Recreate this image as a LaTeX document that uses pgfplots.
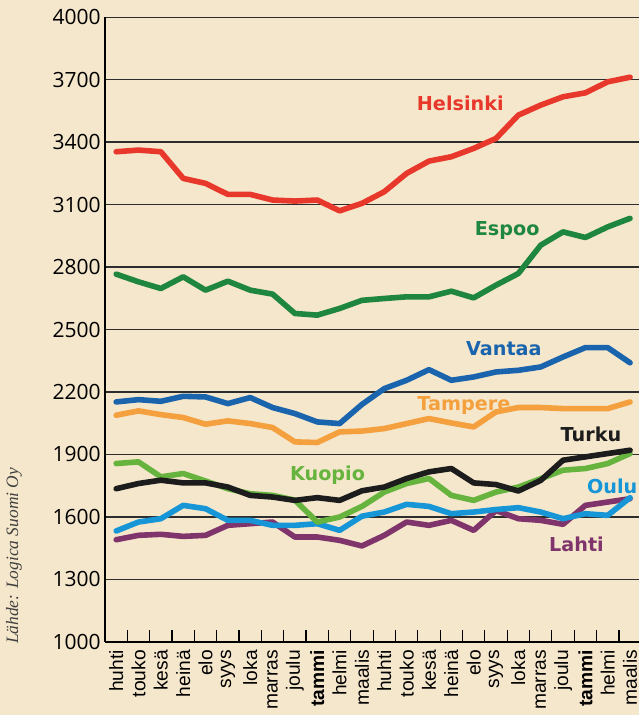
\documentclass[border=0pt]{standalone}
\usepackage{fontspec}
\usepackage{pgfplots}
\pgfplotsset{compat=1.18}
\usetikzlibrary{backgrounds}
\setmainfont{Open Sans}
\newfontfamily\labfont{DejaVu Sans}
\newfontfamily\monfont{Liberation Sans}
\newfontfamily\srcfont{Liberation Serif}
\definecolor{bgc}{RGB}{245,231,203}
\definecolor{gridc}{RGB}{45,45,45}
\definecolor{chel}{RGB}{232,56,44}
\definecolor{cesp}{RGB}{30,134,62}
\definecolor{cvan}{RGB}{26,100,174}
\definecolor{ctam}{RGB}{244,160,62}
\definecolor{ctur}{RGB}{28,28,28}
\definecolor{ckuo}{RGB}{102,180,62}
\definecolor{coul}{RGB}{22,150,214}
\definecolor{clah}{RGB}{128,52,108}
\pgfplotstableread{
x    hel  esp  van  tam  tur  kuo  oul  lah
0.5  3354 2766 2152 2088 1735 1856 1532 1490
1.5  3362 2729 2163 2109 1760 1864 1575 1511
2.5  3354 2697 2155 2091 1776 1792 1591 1516
3.5  3226 2753 2179 2077 1763 1808 1655 1506
4.5  3202 2689 2176 2045 1763 1772 1639 1511
5.5  3149 2732 2144 2061 1743 1735 1583 1559
6.5  3149 2689 2173 2048 1703 1711 1583 1567
7.5  3122 2670 2125 2029 1695 1703 1559 1575
8.5  3117 2577 2096 1960 1679 1680 1559 1503
9.5  3122 2569 2056 1957 1692 1575 1567 1503
10.5 3070 2601 2048 2008 1679 1599 1535 1487
11.5 3106 2640 2140 2012 1725 1650 1603 1460
12.5 3162 2649 2216 2024 1743 1719 1623 1511
13.5 3250 2657 2256 2048 1784 1760 1660 1575
14.5 3309 2657 2307 2072 1816 1784 1650 1559
15.5 3330 2684 2256 2051 1832 1703 1615 1583
16.5 3370 2652 2272 2032 1763 1679 1623 1535
17.5 3418 2713 2296 2104 1755 1719 1635 1630
18.5 3530 2769 2304 2125 1724 1743 1644 1591
19.5 3578 2905 2320 2125 1775 1783 1623 1583
20.5 3618 2969 2368 2120 1872 1824 1591 1564
21.5 3637 2942 2413 2120 1888 1832 1615 1655
22.5 3690 2993 2413 2120 1904 1856 1607 1671
23.5 3712 3034 2340 2152 1920 1904 1692 1687
}\data
\begin{document}
\begin{tikzpicture}
\begin{axis}[
  at={(0,0)}, anchor=south west,
  scale only axis, width=267pt, height=312.2pt,
  xmin=0, xmax=23.9, ymin=1000, ymax=4000,
  axis lines=left,
  axis line style={-, line width=0.8pt, black},
  xtick={0.5,1.5,...,23.5},
  xticklabels={huhti,touko,kesä,heinä,elo,syys,loka,marras,joulu,\textbf{tammi},helmi,maalis,huhti,touko,kesä,heinä,elo,syys,loka,marras,joulu,\textbf{tammi},helmi,maalis},
  minor xtick={1,2,...,23},
  major tick length=0pt,
  minor tick length=6pt,
  tick align=inside,
  minor tick style={line width=0.6pt, black},
  xticklabel style={rotate=90, anchor=east, font=\monfont\fontsize{9.6}{10}\selectfont, inner sep=0pt, xshift=-4pt},
  ytick={1000,1300,...,4000},
  yticklabels={1000,1300,1600,1900,2200,2500,2800,3100,3400,3700,4000},
  yticklabel style={font=\fontsize{10.5}{12}\selectfont, inner sep=2pt},
  ymajorgrids,
  grid style={line width=0.75pt, gridc},
  every axis plot/.append style={line width=2.8pt, line join=round, line cap=round},
  clip=true,
]
\node[anchor=base, text=chel, font=\labfont\bfseries\fontsize{9.6}{11}\selectfont] at (axis cs:15.9,3551) {Helsinki};
\node[anchor=base, text=cesp, font=\labfont\bfseries\fontsize{9.6}{11}\selectfont] at (axis cs:18.0,2953) {Espoo};
\node[anchor=base, text=cvan, font=\labfont\bfseries\fontsize{9.6}{11}\selectfont] at (axis cs:17.85,2376) {Vantaa};
\node[anchor=base, text=ctam, font=\labfont\bfseries\fontsize{9.6}{11}\selectfont] at (axis cs:16.06,2112) {Tampere};
\node[anchor=base, text=ctur, font=\labfont\bfseries\fontsize{9.6}{11}\selectfont] at (axis cs:21.75,1960) {Turku};
\node[anchor=base, text=ckuo, font=\labfont\bfseries\fontsize{9.6}{11}\selectfont] at (axis cs:9.96,1775) {Kuopio};
\node[anchor=base, text=coul, font=\labfont\bfseries\fontsize{9.6}{11}\selectfont] at (axis cs:22.7,1712) {Oulu};
\node[anchor=base, text=clah, font=\labfont\bfseries\fontsize{9.6}{11}\selectfont] at (axis cs:21.1,1434) {Lahti};
\addplot[chel] table[x=x,y=hel] {\data};
\addplot[cesp] table[x=x,y=esp] {\data};
\addplot[cvan] table[x=x,y=van] {\data};
\addplot[ctam] table[x=x,y=tam] {\data};
\addplot[clah] table[x=x,y=lah] {\data};
\addplot[coul] table[x=x,y=oul] {\data};
\addplot[ckuo] table[x=x,y=kuo] {\data};
\addplot[ctur] table[x=x,y=tur] {\data};
\end{axis}
\node[rotate=90, font=\srcfont\itshape\fontsize{8.7}{10}\selectfont, text=black!75] at (-45.5pt,42.9pt) {Lähde: Logica Suomi Oy};
\begin{pgfonlayer}{background}
\fill[bgc] (-52.5pt,-36.65pt) rectangle (267pt,320.85pt);
\end{pgfonlayer}
\pgfresetboundingbox
\useasboundingbox (-52.5pt,-36.65pt) rectangle (267pt,320.85pt);
\end{tikzpicture}
\end{document}
